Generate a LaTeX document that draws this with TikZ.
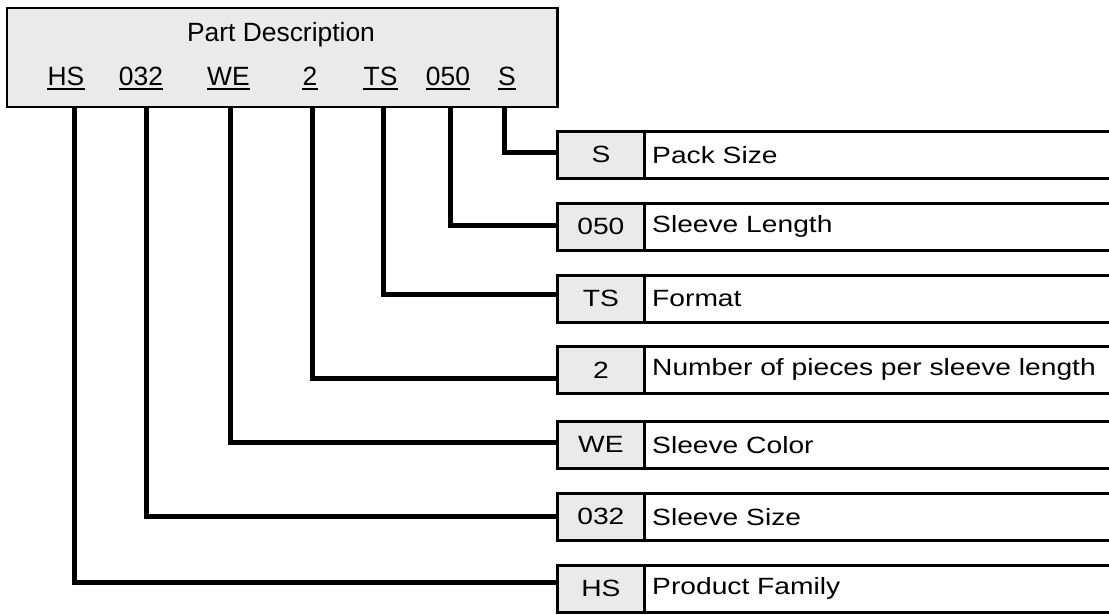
\documentclass[tikz,border=0pt]{standalone}
\usepackage{fontspec}
\setmainfont{Liberation Sans}
\newfontfamily\rowfont[FakeStretch=1.2]{Liberation Sans}
\definecolor{boxgray}{HTML}{EAEAEA}
\begin{document}
\begin{tikzpicture}[x=1pt,y=-1pt,
  topbox/.style={draw=black,line width=2.5pt,fill=boxgray},
  codetxt/.style={inner sep=0pt,anchor=base,font=\fontsize{26.4}{30}\selectfont},
  uline/.style={line width=2pt},
  keycell/.style={draw=black,line width=2.8pt,fill=boxgray,minimum width=87pt,minimum height=47pt,inner sep=0pt,anchor=north west,font=\rowfont\fontsize{23.5}{26}\selectfont},
  desccell/.style={draw=black,line width=2.8pt,fill=white,minimum width=480pt,minimum height=47pt,inner sep=0pt,anchor=north west},
  desctxt/.style={inner sep=0pt,anchor=west,font=\rowfont\fontsize{23.5}{26}\selectfont},
  conn/.style={line width=5pt,line join=miter,line cap=butt}]
\useasboundingbox (0,0) rectangle (1109,614);
% top box
\node[topbox,minimum width=550.5pt,minimum height=99pt,inner sep=0pt,anchor=north west] (pd) at (5.5,6.5) {};
\node[codetxt] (title) at (281,41) {Part Description};
\foreach \n/\x/\t in {c1/66/HS,c2/141/032,c3/228.5/WE,c4/310/2,c5/380.5/TS,c6/448/050,c7/507/S}{
  \node[codetxt] (\n) at (\x,85.7) {\t};
  \draw[uline] ([yshift=-3.5pt]\n.base west) -- ([yshift=-3.5pt]\n.base east);
}
% rows
\foreach \i/\y/\k/\d in {7/130/S/Pack Size,6/202/050/Sleeve Length,5/274/TS/Format,4/345/2/Number of pieces per sleeve length,3/420/WE/Sleeve Color,2/492/032/Sleeve Size,1/564/HS/Product Family}{
  \node[desccell] (d\i) at (643,\y) {};
  \node[keycell] (k\i) at (556,\y) {\k};
  \node[desctxt] (dt\i) at ([xshift=9pt]d\i.west) {\d};
}
% connectors
\foreach \i/\x/\y in {1/74/582,2/146.5/516,3/230/442,4/312/378,5/383/294,6/450/225,7/504/152}{
  \coordinate (t\i) at (\x,106.5);
  \coordinate (e\i) at (k\i.west |- 0,\y);
  \draw[conn] (t\i) |- (e\i);
}
\end{tikzpicture}
\end{document}
